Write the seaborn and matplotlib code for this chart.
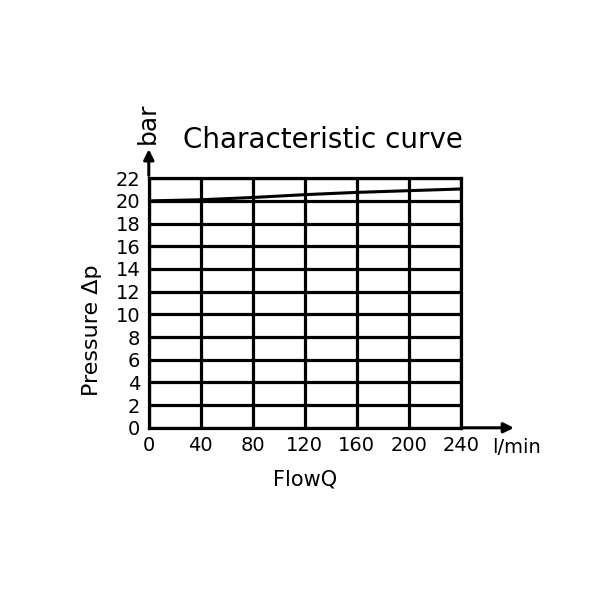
import numpy as np
import pandas as pd
import matplotlib
matplotlib.use('Agg')
import matplotlib.pyplot as plt
import seaborn as sns

flow = [0, 40, 80, 120, 160, 200, 240]
pressure = [20.0, 20.1, 20.3, 20.55, 20.75, 20.9, 21.05]
x_ticks = [0, 40, 80, 120, 160, 200, 240]
y_ticks = [0, 2, 4, 6, 8, 10, 12, 14, 16, 18, 20, 22]

df = pd.DataFrame({'flow': flow, 'pressure': pressure})

sns.set_style('white')
plt.rcParams['font.family'] = ['DejaVu Sans']
plt.rcParams['text.color'] = 'black'
plt.rcParams['axes.labelcolor'] = 'black'
plt.rcParams['xtick.color'] = 'black'
plt.rcParams['ytick.color'] = 'black'

fig = plt.figure(figsize=(6, 6), dpi=100)
ax = fig.add_axes([0.248, 0.287, 0.52, 0.416])

sns.lineplot(data=df, x='flow', y='pressure', color='black', linewidth=2.2, ax=ax)

ax.set_xlim(0, 240)
ax.set_ylim(0, 22)
ax.set_xticks(x_ticks)
ax.set_yticks(y_ticks)
ax.set_xticklabels([str(t) for t in x_ticks], fontsize=14)
ax.set_yticklabels([str(t) for t in y_ticks], fontsize=14)
ax.tick_params(length=0, pad=6)
ax.grid(True, color='black', linewidth=2.3)
for s in ax.spines.values():
    s.set_linewidth(2.3)
    s.set_color('black')

ax.set_xlabel('FlowQ', fontsize=15, labelpad=10)
ax.set_ylabel('Pressure \u0394p', fontsize=16)
ax.yaxis.set_label_coords(-0.15, 0.392)

# arrows for axes
ax.annotate('', xy=(283, 0), xytext=(240, 0), xycoords='data',
            arrowprops=dict(arrowstyle='-|>', color='black', lw=2.2, mutation_scale=15),
            annotation_clip=False)
ax.annotate('', xy=(0, 24.8), xytext=(0, 22), xycoords='data',
            arrowprops=dict(arrowstyle='-|>', color='black', lw=2.2, mutation_scale=15),
            annotation_clip=False)
ax.text(-0.5, 25.0, 'bar', rotation=90, ha='center', va='bottom', fontsize=18)
ax.text(264, -1.7, 'l/min', ha='left', va='center', fontsize=14)

fig.text(0.538, 0.767, 'Characteristic curve', ha='center', va='center', fontsize=20)

fig.savefig('out.png', dpi=100)
